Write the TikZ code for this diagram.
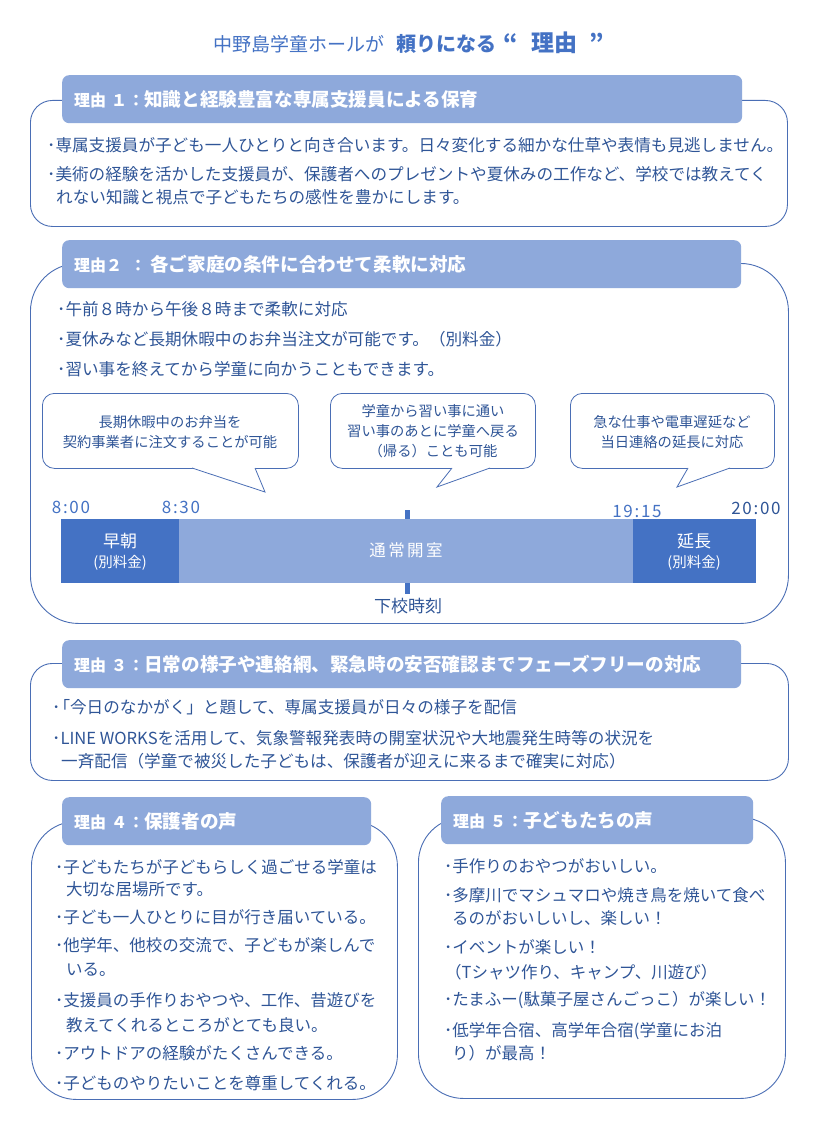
\documentclass[tikz,border=0pt]{standalone}
\usepackage{fontspec}
\setmainfont{Noto Sans CJK JP}
\newfontfamily\timefont[LetterSpace=10]{Noto Sans CJK JP}
\newfontfamily\spacedfont[LetterSpace=15]{Noto Sans CJK JP}
\definecolor{hdrblue}{HTML}{8EA9DB}
\definecolor{dkblue}{HTML}{4472C4}
\definecolor{txtblue}{HTML}{2F5597}
\definecolor{boxline}{HTML}{4A6EB5}
\begin{document}
\begin{tikzpicture}[x=1pt,y=-1pt,
  outer/.style={draw=boxline, line width=0.9pt, fill=white, inner sep=0pt, anchor=north west},
  hdr/.style={fill=hdrblue, rounded corners=7pt, inner sep=0pt, anchor=north west, minimum height=48pt},
  hdrtext/.style={anchor=west, inner sep=0pt, text=white, font=\bfseries\fontsize{18.6}{20}\selectfont},
  body/.style={anchor=west, inner sep=0pt, text=txtblue, font=\fontsize{16.6}{20}\selectfont},
  bodys/.style={anchor=west, inner sep=0pt, text=txtblue, font=\fontsize{16.5}{20}\selectfont},
  callout/.style={draw=boxline, line width=0.8pt, fill=white, rounded corners=12pt, inner sep=0pt, anchor=north west, minimum height=75pt},
  ctext/.style={align=center, inner sep=0pt, text=txtblue, font=\fontsize{14.3}{20}\selectfont},
  cline/.style={draw=boxline, line width=0.8pt, line join=miter},
  bardark/.style={fill=dkblue, inner sep=0pt, anchor=north west, minimum height=64pt},
  barlight/.style={fill=hdrblue, inner sep=0pt, anchor=north west, minimum height=64pt},
  bartext/.style={inner sep=0pt, text=white, font=\fontsize{17}{20}\selectfont},
  barsmall/.style={inner sep=0pt, text=white, font=\fontsize{14.5}{18}\selectfont},
  timelbl/.style={inner sep=0pt, text=dkblue, font=\timefont\fontsize{17}{20}\selectfont}
]
\useasboundingbox[fill=white] (0,0) rectangle (816,1145);

% ---------- title ----------
\node[inner sep=0pt, text=dkblue, anchor=west] (title) at (213,43)
  {\fontsize{19}{22}\selectfont 中野島学童ホールが\hspace{12pt}{\bfseries\fontsize{20}{22}\selectfont 頼りになる}\hspace{7pt}{\bfseries\fontsize{23}{24}\selectfont “\hspace{14pt}理由\hspace{12pt}”}};

% ---------- section 1 ----------
\node[outer, rounded corners=22pt, minimum width=757pt, minimum height=126pt] (b1) at (30,100) {};
\node[hdr, minimum width=680pt] (h1) at (62,75) {};
\node[hdrtext] (h1t) at (74,99) {{\fontsize{16}{18}\selectfont 理由\hspace{5pt}１\hspace{1pt}：}知識と経験豊富な専属支援員による保育};
\node[body] (s1a) at (47,145) {･専属支援員が子ども一人ひとりと向き合います。日々変化する細かな仕草や表情も見逃しません。};
\node[body] (s1b) at (47,174) {･美術の経験を活かした支援員が、保護者へのプレゼントや夏休みの工作など、学校では教えてく};
\node[body] (s1c) at (56,197) {れない知識と視点で子どもたちの感性を豊かにします。};

% ---------- section 2 ----------
\node[outer, rounded corners=48pt, minimum width=758pt, minimum height=360pt] (b2) at (30,263) {};
\node[hdr, minimum width=679pt] (h2) at (62,240) {};
\node[hdrtext] (h2t) at (74,264) {{\fontsize{16}{18}\selectfont 理由２\hspace{8pt}：}\hspace{4pt}各ご家庭の条件に合わせて柔軟に対応};
\node[body] (s2a) at (57,309) {･午前８時から午後８時まで柔軟に対応};
\node[body] (s2b) at (57,339) {･夏休みなど長期休暇中のお弁当注文が可能です。（別料金）};
\node[body] (s2c) at (57,369) {･習い事を終えてから学童に向かうこともできます。};

% callouts
\node[callout, minimum width=256pt] (c1) at (42,393) {};
\node[callout, minimum width=205pt] (c2) at (330,393) {};
\node[callout, minimum width=204pt] (c3) at (570,393) {};
\coordinate (tip1) at (265,492);
\coordinate (tip2) at (437,487);
\coordinate (tip3) at (677,487);
\fill[white] (193,466) rectangle (254,470);
\fill[white] (192,468) -- (tip1) -- (255,468) -- cycle;
\draw[cline] (192,468) -- (tip1) -- (255,468);
\fill[white] (453,466) rectangle (489,470);
\fill[white] (452,468) -- (tip2) -- (490,468) -- cycle;
\draw[cline] (452,468) -- (tip2) -- (490,468);
\fill[white] (689,466) rectangle (729,470);
\fill[white] (688,468) -- (tip3) -- (730,468) -- cycle;
\draw[cline] (688,468) -- (tip3) -- (730,468);
\node[ctext] (c1t) at (170,432) {長期休暇中のお弁当を\\契約事業者に注文することが可能};
\node[ctext] (c2t) at (433,431) {学童から習い事に通い\\習い事のあとに学童へ戻る\\（帰る）ことも可能};
\node[ctext] (c3t) at (672,432) {急な仕事や電車遅延など\\当日連絡の延長に対応};

% timeline
\node[timelbl] (l800) at (71,507) {8:00};
\node[timelbl] (l830) at (181,507) {8:30};
\node[timelbl] (l1915) at (637,511) {19:15};
\node[timelbl, text=txtblue] (l2000) at (756,508) {20:00};
\node[bardark, minimum width=118pt] (early) at (61,519) {};
\node[barlight, minimum width=454pt] (normal) at (179,519) {};
\node[bardark, minimum width=123pt] (late) at (633,519) {};
\fill[dkblue] (405,510) rectangle (410,519);
\fill[dkblue] (405,583) rectangle (410,594);
\node[bartext] (et) at (120,541) {早朝};
\node[barsmall] (ep) at (120,563) {(別料金)};
\node[bartext, font=\spacedfont\fontsize{16.5}{20}\selectfont] (nt) at (406,550) {通常開室};
\node[bartext] (lt) at (694,541) {延長};
\node[barsmall] (lp) at (694,563) {(別料金)};
\node[inner sep=0pt, text=txtblue, font=\fontsize{17}{20}\selectfont] (dismiss) at (408,606) {下校時刻};

% ---------- section 3 ----------
\node[outer, rounded corners=22pt, minimum width=758pt, minimum height=117pt] (b3) at (30,663) {};
\node[hdr, minimum width=679pt] (h3) at (62,640) {};
\node[hdrtext] (h3t) at (74,664) {{\fontsize{16}{18}\selectfont 理由\hspace{5pt}３\hspace{1pt}：}日常の様子や連絡網、緊急時の安否確認までフェーズフリーの対応};
\node[body] (s3a) at (52,707) {･\hspace{-7pt}「今日のなかがく」と題して、専属支援員が日々の様子を配信};
\node[body] (s3b) at (52,738) {･LINE WORKSを活用して、気象警報発表時の開室状況や大地震発生時等の状況を};
\node[body] (s3c) at (61,761) {一斉配信（学童で被災した子どもは、保護者が迎えに来るまで確実に対応）};

% ---------- section 4 ----------
\node[outer, rounded corners=45pt, minimum width=366pt, minimum height=278pt] (b4) at (31,821) {};
\node[hdr, minimum width=309pt] (h4) at (62,797) {};
\node[hdrtext] (h4t) at (74,821) {{\fontsize{16}{18}\selectfont 理由\hspace{5pt}４\hspace{1pt}：}保護者の声};
\node[bodys] (s4a) at (55,867) {･子どもたちが子どもらしく過ごせる学童は};
\node[bodys] (s4b) at (66,889) {大切な居場所です。};
\node[bodys] (s4c) at (55,917) {･子ども一人ひとりに目が行き届いている。};
\node[bodys] (s4d) at (55,945) {･他学年、他校の交流で、子どもが楽しんで};
\node[bodys] (s4e) at (66,970) {いる。};
\node[bodys] (s4f) at (55,1000) {･支援員の手作りおやつや、工作、昔遊びを};
\node[bodys] (s4g) at (66,1025) {教えてくれるところがとても良い。};
\node[bodys] (s4h) at (55,1053) {･アウトドアの経験がたくさんできる。};
\node[bodys] (s4i) at (55,1083) {･子どものやりたいことを尊重してくれる。};

% ---------- section 5 ----------
\node[outer, rounded corners=45pt, minimum width=367pt, minimum height=281pt] (b5) at (418,817) {};
\node[hdr, minimum width=312pt] (h5) at (441,796) {};
\node[hdrtext] (h5t) at (453,820) {{\fontsize{16}{18}\selectfont 理由\hspace{5pt}５\hspace{1pt}：}子どもたちの声};
\node[bodys] (s5a) at (444,866) {･手作りのおやつがおいしい。};
\node[bodys] (s5b) at (444,895) {･多摩川でマシュマロや焼き鳥を焼いて食べ};
\node[bodys] (s5c) at (452,918) {るのがおいしいし、楽しい！};
\node[bodys] (s5d) at (444,947) {･イベントが楽しい！};
\node[bodys] (s5e) at (445,972) {（Tシャツ作り、キャンプ、川遊び）};
\node[bodys] (s5f) at (444,1000) {･たまふー(駄菓子屋さんごっこ）が楽しい！};
\node[bodys] (s5g) at (444,1031) {･低学年合宿、高学年合宿(学童にお泊};
\node[bodys] (s5h) at (452,1053) {り）が最高！};
\end{tikzpicture}
\end{document}
